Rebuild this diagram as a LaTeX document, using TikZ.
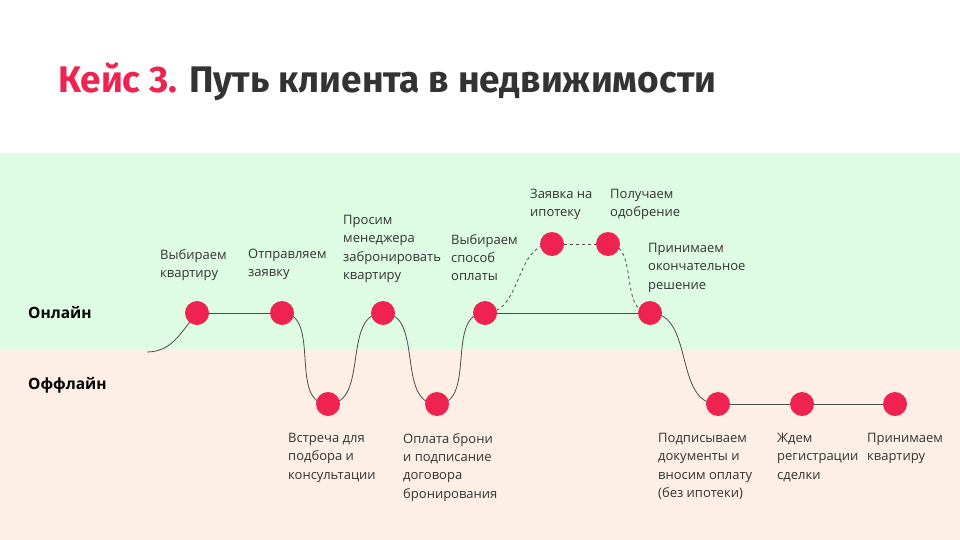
\documentclass[tikz,border=0pt]{standalone}
\usepackage{fontspec}
\setmainfont{Open Sans}
\newfontfamily\titlefont{Fira Sans}
\usepackage{tikz}
\usetikzlibrary{arrows.meta, calc}

\definecolor{dotred}{HTML}{EF2350}
\definecolor{titlegray}{HTML}{333333}
\definecolor{pathgray}{HTML}{4D4D4D}
\definecolor{onlinebg}{HTML}{DEFBE4}
\definecolor{offlinebg}{HTML}{FDEFE6}

\pgfdeclarelayer{lanes}
\pgfdeclarelayer{routes}
\pgfsetlayers{lanes,routes,main}

\begin{document}
\begin{tikzpicture}[%
    x=1pt, y=-1pt,
    dot/.style={
      circle,
      fill=dotred,
      minimum size=24pt,
      inner sep=0
    },
    stepText/.style={
      anchor=north west,
      inner sep=0,
      align=left,
      text=titlegray,
      font=\fontsize{13}{18.3}\selectfont
    },
    laneText/.style={
      anchor=base west,
      inner sep=0,
      font=\fontsize{15.5}{18}\selectfont\bfseries
    },
    route/.style={draw=pathgray, line width=0.8pt}]
    \useasboundingbox (0,0) rectangle (960,540);

    % lanes
    \begin{pgfonlayer}{lanes}
      \fill[onlinebg]  (0,153) rectangle (960,350);
      \fill[offlinebg] (0,350) rectangle (960,540);
    \end{pgfonlayer}

    \node[anchor=base west, inner sep=0, text=titlegray,
      font=\titlefont\fontsize{37}{40}\selectfont\bfseries] at (58,93) (title)
      {\textcolor{dotred}{Кейс 3.} Путь клиента в недвижимости};

    \node[laneText] at (28,318) (online) {Онлайн};
    \node[laneText] at (28,389) (offline) {Оффлайн};

    % steps
    \node[dot] at (197,313) (a1) {};
    \node[dot] at (282,313) (a2) {};
    \node[dot] at (328,404) (b1) {};
    \node[dot] at (383,313) (a3) {};
    \node[dot] at (437,404) (b2) {};
    \node[dot] at (485,313) (a4) {};
    \node[dot] at (552,244) (c1) {};
    \node[dot] at (608,244) (c2) {};
    \node[dot] at (650,313) (a5) {};
    \node[dot] at (718,404) (b3) {};
    \node[dot] at (802,404) (b4) {};
    \node[dot] at (895,404) (b5) {};
    \coordinate (start) at (147,352);

    \node[stepText] at (160,249) (a1txt) {Выбираем\\квартиру};
    \node[stepText] at (248,249) (a2txt) {Отправляем\\заявку};
    \node[stepText] at (343,215) (a3txt) {Просим\\менеджера\\забронировать\\квартиру};
    \node[stepText] at (451,234) (a4txt) {Выбираем\\способ\\оплаты};
    \node[stepText] at (530,189) (c1txt) {Заявка на\\ипотеку};
    \node[stepText] at (610,189) (c2txt) {Получаем\\одобрение};
    \node[stepText] at (648,243) (a5txt) {Принимаем\\окончательное\\решение};
    \node[stepText] at (288,433) (b1txt) {Встреча для\\подбора и\\консультации};
    \node[stepText] at (403,433) (b2txt) {Оплата брони\\и подписание\\договора\\бронирования};
    \node[stepText] at (658,433) (b3txt) {Подписываем\\документы и\\вносим оплату\\(без ипотеки)};
    \node[stepText] at (777,433) (b4txt) {Ждем\\регистрации\\сделки};
    \node[stepText] at (867,433) (b5txt) {Принимаем\\квартиру};

    \begin{pgfonlayer}{routes}
    \path[route]
        (start) edge[out=0, in=230] (a1.center)
        (a1.center) edge (a2.center)
        (a2.center) edge[out=0, in=180] (b1.center)
        (b1.center) edge[out=0, in=180] (a3.center)
        (a3.center) edge[out=0, in=180] (b2.center)
        (b2.center) edge[out=0, in=180] (a4.center)
        (a4.center) edge (a5.center)
        (a5.center) edge[out=0, in=180] (b3.center)
        (b3.center) edge (b4.center)
        (b4.center) edge (b5.center)
        ;
    \path[route, dashed]
        (a4.center) edge[out=0, in=180] (c1.center)
        (c1.center) edge (c2.center)
        (c2.center) edge[out=0, in=180] (a5.center)
        ;
    \end{pgfonlayer}
\end{tikzpicture}
\end{document}
